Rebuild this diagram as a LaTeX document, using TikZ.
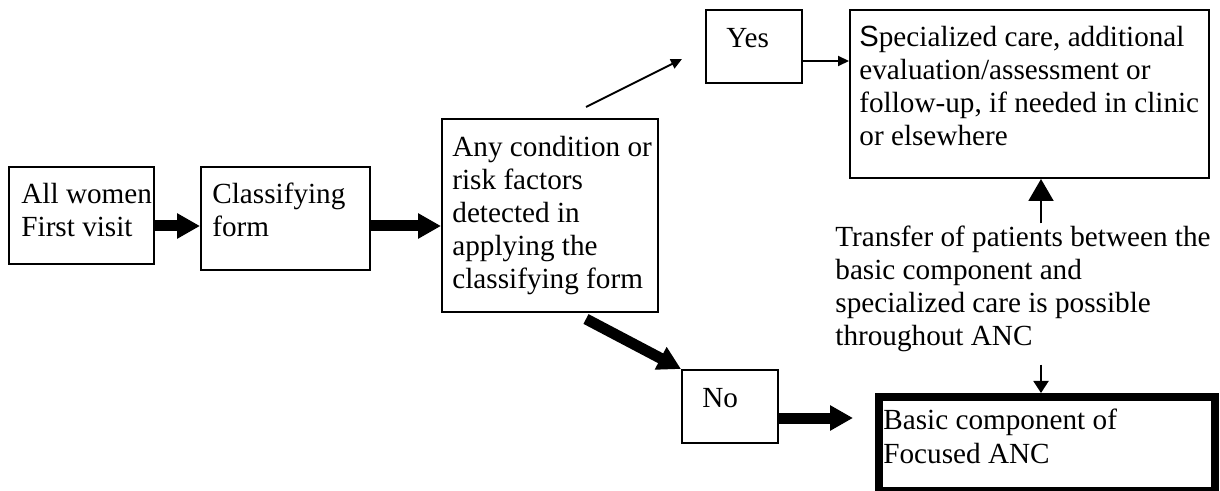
\documentclass[tikz,border=0pt]{standalone}
\usepackage{fontspec}
\setmainfont{Liberation Serif}
\setsansfont{Liberation Sans}
\usetikzlibrary{arrows.meta,calc}
\tikzset{
  box/.style={draw, line width=1pt, inner sep=0pt, anchor=north west},
  txt/.style={inner sep=0pt, anchor=base west, align=left, font=\fontsize{14.6pt}{16.6pt}\selectfont},
  thickarrow/.style={line width=5.5pt, -{Triangle[width=12pt,length=11.5pt]}},
  thinarrow/.style={line width=1pt, -{Triangle[width=5pt,length=5.5pt]}},
}
\begin{document}
\begin{tikzpicture}[x=0.5pt,y=-0.5pt]
\useasboundingbox (0,0) rectangle (1220,491);
% boxes
\node[box, minimum width=72.5pt, minimum height=48.5pt] (a) at (8,166) {};
\node[box, minimum width=84.5pt, minimum height=51.5pt] (b) at (200,166) {};
\node[box, minimum width=108pt, minimum height=96.5pt] (c) at (441,118) {};
\node[box, minimum width=48pt, minimum height=36.5pt] (yes) at (705,9) {};
\node[box, minimum width=179.5pt, minimum height=84pt] (spec) at (849,9) {};
\node[box, minimum width=48pt, minimum height=36.5pt] (no) at (681,369) {};
\node[box, line width=4pt, minimum width=168pt, minimum height=47pt] (basic) at (875,393) {};
% texts (anchored at the baseline of the last line)
\node[txt] (ta) at (21,237) {All women\\First visit};
\node[txt] (tb) at (212,237) {Classifying\\form};
\node[txt] (tc) at (452,289) {Any condition or\\risk factors\\detected in\\applying the\\classifying form};
\node[txt] (tyes) at (726,48) {Yes};
\node[txt] (tspec) at (859,146) {{\sffamily S}pecialized care, additional\\evaluation/assessment or\\follow-up, if needed in clinic\\or elsewhere};
\node[txt] (tr) at (835,346) {Transfer of patients between the\\basic component and\\specialized care is possible\\throughout ANC};
\node[txt] (tno) at (702,408) {No};
\node[txt] (tbasic) at (883,463) {Basic component of\\Focused ANC};
% connectors
\draw[thickarrow] (a.east |- 0,226) -- (b.west |- 0,226);
\draw[thickarrow] (b.east |- 0,226) -- (c.west |- 0,226);
\draw[thinarrow] ([shift={(-73,-11)}]c.north east) -- ([shift={(-23,-25)}]yes.south west);
\draw[thinarrow] (yes.east |- 0,61) -- (spec.west |- 0,61);
\draw[thickarrow] ([shift={(-73,6)}]c.south east) -- (no.north west);
\draw[thickarrow] (no.east |- 0,418) -- ($(basic.west |- 0,418)+(-22,0)$);
\draw[line width=1pt, -{Triangle[width=12.5pt,length=11pt]}] ([yshift=1pt]tr.north -| 1041,0) -- (spec.south -| 1041,0);
\draw[line width=1pt, -{Triangle[width=7.5pt,length=6pt]}] ([yshift=-6pt]tr.south -| 1041,0) -- (basic.north -| 1041,0);
\end{tikzpicture}
\end{document}
